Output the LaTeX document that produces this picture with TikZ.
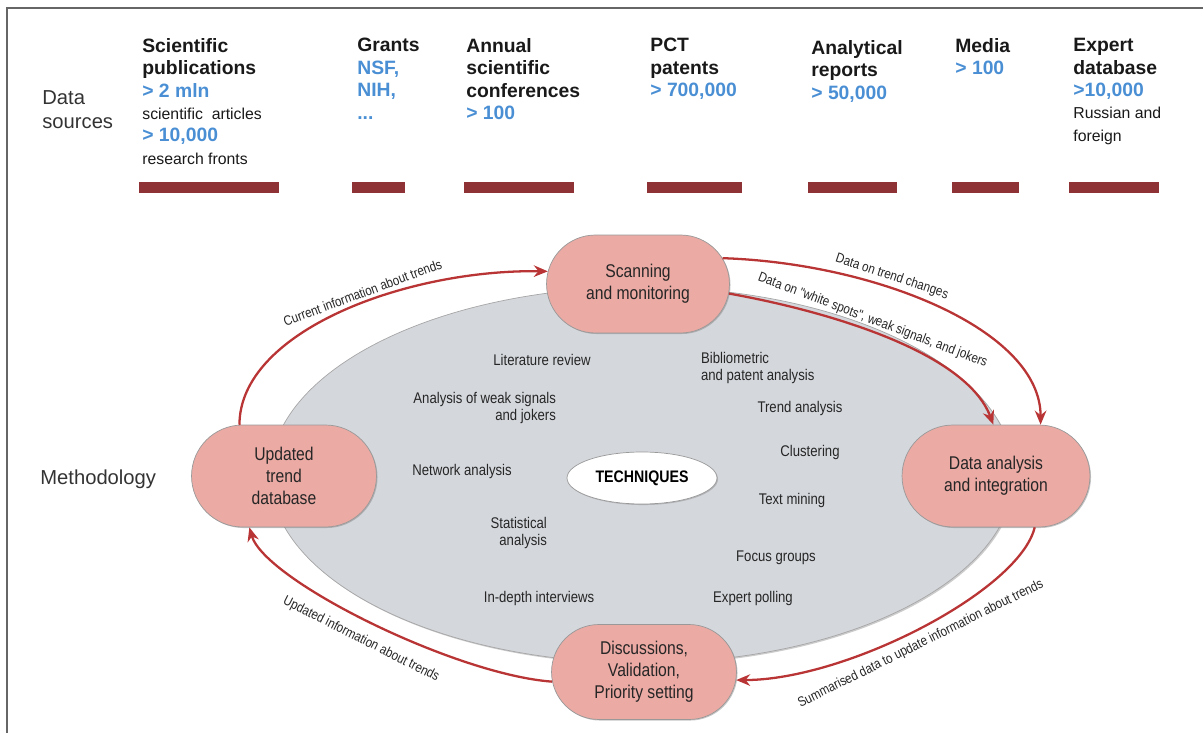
\documentclass[tikz,border=0pt]{standalone}
\usepackage{fontspec}
\setmainfont{Liberation Sans}
\newfontfamily\condfont{Liberation Sans}[FakeStretch=0.85]
\usepackage{xcolor}
\usetikzlibrary{arrows.meta, positioning, shapes.geometric, shapes.misc, shadows}
\definecolor{srcBlue}{HTML}{4A8FD4}
\definecolor{barRed}{HTML}{8E3236}
\definecolor{arcRed}{HTML}{B93434}
\definecolor{stageFill}{HTML}{EBAAA4}
\definecolor{techGray}{HTML}{D4D7DC}
\newcommand{\srcval}[1]{{\color{srcBlue}#1}}
\newcommand{\srcnote}[1]{{\fontsize{9}{12.75}\selectfont\mdseries #1}}

\begin{document}
\begin{tikzpicture}[
  x=0.02cm, y=-0.02cm,
  src/.style={anchor=north west, align=left, inner sep=0pt, font=\fontsize{11}{12.75}\selectfont\bfseries, text=black!90},
  bar/.style={fill=barRed, minimum height=0.22cm, inner sep=0pt},
  side/.style={anchor=west, align=left, inner sep=0pt, font=\fontsize{11.5}{13.6}\selectfont, text=black!80},
  stage/.style={rounded rectangle, draw=black!40, fill=stageFill, align=center, inner sep=2pt, font=\condfont\fontsize{10.5}{12.6}\selectfont, text=black!85, drop shadow={shadow xshift=0.6pt, shadow yshift=-0.6pt, opacity=0.45}},
  tech/.style={align=center, inner sep=1pt, font=\condfont\fontsize{8.8}{9.2}\selectfont, text=black!85},
  arr/.style={-{Stealth[length=2.8mm, width=2.3mm]}, line width=1.3pt, draw=arcRed},
  flow/.style={sloped, inner sep=2pt, font=\condfont\fontsize{7.8}{9}\selectfont, text=black!85}
]
\useasboundingbox (0,0) rectangle (1203,733);
\draw[black!60, line width=0.6pt] (7,733) -- (7,8) -- (1203,8);

\node[side] (dsrc) at (42,110) {Data\\sources};
\node[side] (meth) at (40,479) {Methodology};

\node[src] (pubs) at (142,38) {Scientific\\publications\\\srcval{> 2 mln}\\\srcnote{scientific\ \ articles}\\\srcval{> 10,000}\\\srcnote{research fronts}};
\node[src] (grants) at (357,38) {Grants\\\srcval{NSF,}\\\srcval{NIH,}\\\srcval{...}};
\node[src] (confs) at (466,38) {Annual\\scientific\\conferences\\\srcval{> 100}};
\node[src] (pct) at (650,38) {PCT\\patents\\\srcval{> 700,000}};
\node[src] (reports) at (811,40) {Analytical\\reports\\\srcval{> 50,000}};
\node[src] (media) at (955,38) {Media\\\srcval{> 100}};
\node[src] (experts) at (1073,38) {Expert\\database\\\srcval{>10,000}\\\srcnote{Russian and}\\\srcnote{foreign}};

\node[bar, minimum width=2.8cm] (barPubs) at (209,187.5) {};
\node[bar, minimum width=1.06cm] (barGrants) at (378.5,187.5) {};
\node[bar, minimum width=2.2cm] (barConfs) at (519,187.5) {};
\node[bar, minimum width=1.9cm] (barPct) at (694.5,187.5) {};
\node[bar, minimum width=1.78cm] (barReports) at (852.5,187.5) {};
\node[bar, minimum width=1.34cm] (barMedia) at (985.5,187.5) {};
\node[bar, minimum width=1.8cm] (barExperts) at (1114,187.5) {};

\node[ellipse, draw=black!35, fill=techGray, minimum width=14.88cm, minimum height=7.52cm, drop shadow={shadow xshift=0.8pt, shadow yshift=-0.8pt, opacity=0.4}] (field) at (642,475) {};
\node[ellipse, draw=black!40, fill=white, minimum width=3cm, minimum height=1.04cm, font=\condfont\fontsize{9.5}{11}\selectfont\bfseries, drop shadow={shadow xshift=0.6pt, shadow yshift=-0.6pt, opacity=0.4}] (techs) at (642,478) {TECHNIQUES};

\node[tech] (litrev) at (542,360) {Literature review};
\node[tech, align=left, anchor=west] (biblio) at (699,368) {Bibliometric\\and patent analysis};
\node[tech, align=right, anchor=east] (weak) at (558,408) {Analysis of weak signals\\and jokers};
\node[tech] (trend) at (800,408) {Trend analysis};
\node[tech] (clust) at (810,452) {Clustering};
\node[tech] (netw) at (462,471) {Network analysis};
\node[tech] (textm) at (792,500) {Text mining};
\node[tech, align=right, anchor=east] (stat) at (549,533) {Statistical\\analysis};
\node[tech] (focus) at (776,558) {Focus groups};
\node[tech] (indepth) at (539,598) {In-depth interviews};
\node[tech] (expoll) at (753,598) {Expert polling};

\node[stage, minimum width=3.8cm, minimum height=1.96cm] (scan) at (638,284) {Scanning\\and monitoring};
\node[stage, minimum width=3.84cm, minimum height=2.04cm] (upd) at (284,476) {Updated\\trend\\database};
\node[stage, minimum width=3.9cm, minimum height=2.04cm] (da) at (996,476) {Data analysis\\and integration};
\node[stage, minimum width=3.84cm, minimum height=1.9cm] (disc) at (644,672) {Discussions,\\Validation,\\Priority setting};

\draw[arr] (upd.131) .. controls +(0,-93) and +(-143,-2) .. (scan.172) node[flow, pos=.57, above] (curInfo) {Current information about trends};
\draw[arr] (scan.17) .. controls +(153,5) and +(0,-95) .. (da.49) node[flow, pos=.37, above] (trendChg) {Data on trend changes};
\draw[arr] (scan.-6) .. controls +(90,16) and +(-28,-75) .. (da.93) node[flow, pos=.45, above] (whiteSpots) {Data on "white spots", weak signals, and jokers};
\draw[arr] (da.-53) .. controls +(-15,63) and +(111,0) .. (disc.-5) node[flow, pos=.52, below=2pt] (summData) {Summarised data to update information about trends};
\draw[arr] (disc.186) .. controls +(-97,-7) and +(15,53) .. (upd.236) node[flow, pos=.5, below=5pt] (updInfo) {Updated information about trends};
\end{tikzpicture}
\end{document}
